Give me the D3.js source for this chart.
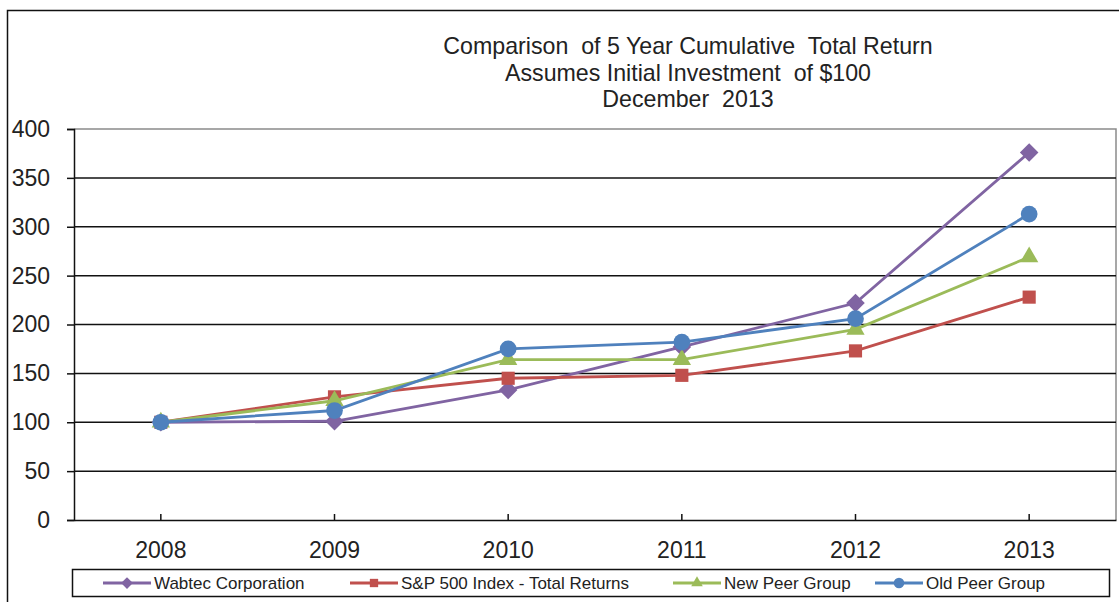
<!DOCTYPE html>
<html>
<head>
<meta charset="utf-8">
<script src="https://cdn.jsdelivr.net/npm/d3@7"></script>
<style>
    body { margin: 0; background: #fff; }
    text { font-family: Arial, "Liberation Sans", sans-serif; fill: #222; }
</style>
</head>
<body>
<script>
// chart data
var years = ['2008', '2009', '2010', '2011', '2012', '2013'];
var wabtec = [100, 101, 133, 177, 222, 376];
var sp500 = [100, 126, 145, 148, 173, 228];
var newPeer = [100, 122, 164, 164, 195, 269];
var oldPeer = [100, 112, 175, 182, 206, 313];
var yTicks = [0, 50, 100, 150, 200, 250, 300, 350, 400];
var titleLines = ['Comparison  of 5 Year Cumulative  Total Return', 'Assumes Initial Investment  of $100', 'December  2013'];

var series = [
    { name: 'Wabtec Corporation', values: wabtec, color: '#8064A2', symbol: d3.symbolDiamond2, size: 220 },
    { name: 'S&P 500 Index - Total Returns', values: sp500, color: '#C0504D', symbol: d3.symbolSquare2, size: 220 },
    { name: 'New Peer Group', values: newPeer, color: '#9BBB59', symbol: d3.symbolTriangle2, size: 240 },
    { name: 'Old Peer Group', values: oldPeer, color: '#4F81BD', symbol: d3.symbolCircle, size: 220 }
];

var scr = { w: 1119, h: 602 };
var plot = { left: 74, right: 1116, top: 129, bottom: 520 };

var svg = d3.select('body').append('svg')
    .attr('width', scr.w)
    .attr('height', scr.h);

// outer frame
svg.append('rect')
    .attr('x', 7.5).attr('y', 10.5)
    .attr('width', 1130).attr('height', 620)
    .attr('fill', 'none').attr('stroke', '#111').attr('stroke-width', 1.5);

var x = d3.scaleBand().domain(years).range([plot.left, plot.right]);
var y = d3.scaleLinear().domain([0, 400]).range([plot.bottom, plot.top]);

// title
svg.append('text')
    .attr('x', 688).attr('y', 54)
    .attr('text-anchor', 'middle')
    .attr('font-size', 23.2)
    .style('white-space', 'pre')
    .selectAll('tspan')
    .data(titleLines)
    .enter()
    .append('tspan')
    .attr('x', 688)
    .attr('dy', function(d, i) { return i == 0 ? 0 : 26.5; })
    .text(function(d) { return d; });

// plot frame: top and right gray
svg.append('path')
    .attr('d', 'M' + plot.left + ',' + y(400) + 'H' + plot.right + 'V' + plot.bottom)
    .attr('fill', 'none').attr('stroke', '#8a8a8a').attr('stroke-width', 1.5);

// gridlines
svg.append('g')
    .selectAll('line')
    .data(yTicks.filter(function(d) { return d > 0 && d < 400; }))
    .enter()
    .append('line')
    .attr('x1', plot.left).attr('x2', plot.right)
    .attr('y1', function(d) { return y(d); })
    .attr('y2', function(d) { return y(d); })
    .attr('stroke', '#111').attr('stroke-width', 1.5);

// y axis
var yAxis = d3.axisLeft(y).tickValues(yTicks).tickSize(7).tickPadding(17);
var yG = svg.append('g')
    .attr('transform', 'translate(' + plot.left + ',0)')
    .call(yAxis);
yG.select('.domain').attr('stroke', '#111').attr('stroke-width', 1.5);
yG.selectAll('.tick line').attr('stroke', '#111').attr('stroke-width', 1.5);
yG.selectAll('.tick text').attr('font-size', 23).attr('fill', '#222')
    .attr('font-family', 'Arial, "Liberation Sans", sans-serif');

// x axis, ticks pointing up
var xAxis = d3.axisBottom(x).tickSize(-6).tickSizeOuter(0).tickPadding(22);
var xG = svg.append('g')
    .attr('transform', 'translate(0,' + plot.bottom + ')')
    .call(xAxis);
xG.select('.domain').attr('stroke', '#111').attr('stroke-width', 1.5);
xG.selectAll('.tick line').attr('stroke', '#111').attr('stroke-width', 1.5);
xG.selectAll('.tick text').attr('font-size', 23).attr('fill', '#222')
    .attr('font-family', 'Arial, "Liberation Sans", sans-serif');

var line = d3.line()
    .x(function(d, i) { return x(years[i]) + x.bandwidth() / 2; })
    .y(function(d) { return y(d); });

var lines = svg.append('g').selectAll('g')
    .data(series)
    .enter()
    .append('g');

lines.append('path')
    .attr('d', function(d) { return line(d.values); })
    .attr('fill', 'none')
    .attr('stroke', function(d) { return d.color; })
    .attr('stroke-width', 2.8);

lines.each(function(s) {
    d3.select(this).selectAll('path.mark')
        .data(s.values)
        .enter()
        .append('path')
        .classed('mark', true)
        .attr('transform', function(d, i) {
            return 'translate(' + (x(years[i]) + x.bandwidth() / 2) + ',' + y(d) + ')';
        })
        .attr('d', d3.symbol().type(s.symbol).size(s.size))
        .attr('fill', s.color);
});

// legend
var legend = svg.append('g');
legend.append('rect')
    .attr('x', 72.5).attr('y', 569.5)
    .attr('width', 1037).attr('height', 27)
    .attr('fill', '#fff').attr('stroke', '#111').attr('stroke-width', 1.5);

var legendX = [103, 350, 673, 875];
var items = legend.selectAll('g.item')
    .data(series)
    .enter()
    .append('g')
    .classed('item', true)
    .attr('transform', function(d, i) { return 'translate(' + legendX[i] + ',583)'; });

items.append('line')
    .attr('x1', 0).attr('x2', 48)
    .attr('stroke', function(d) { return d.color; })
    .attr('stroke-width', 2.8);
items.append('path')
    .attr('transform', 'translate(24,0)')
    .attr('d', function(d) { return d3.symbol().type(d.symbol).size(d.size * 0.4)(); })
    .attr('fill', function(d) { return d.color; });
items.append('text')
    .attr('x', 51).attr('y', 6)
    .attr('font-size', 17)
    .text(function(d) { return d.name; });
</script>
</body>
</html>
